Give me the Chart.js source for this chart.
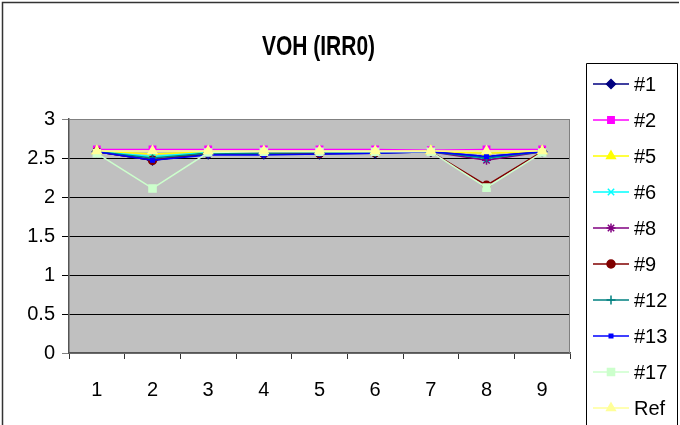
<!DOCTYPE html>
<html>
<head>
<meta charset="utf-8">
<script src="https://cdn.jsdelivr.net/npm/chart.js@4/dist/chart.umd.min.js"></script>
<style>
  html, body { margin: 0; padding: 0; background: #fff; }
  #wrap { width: 680px; height: 425px; }
</style>
</head>
<body>
<div id="wrap"><canvas id="chart" width="680" height="425"></canvas></div>
<script>
"use strict";

// x categories
const xLabels = ['1', '2', '3', '4', '5', '6', '7', '8', '9'];

// one list per device
const s1  = [2.58, 2.47, 2.55, 2.55, 2.55, 2.56, 2.58, 2.52, 2.58];
const s2  = [2.61, 2.61, 2.61, 2.61, 2.61, 2.61, 2.60, 2.61, 2.61];
const s5  = [2.59, 2.55, 2.58, 2.58, 2.58, 2.58, 2.59, 2.56, 2.59];
const s6  = [2.58, 2.52, 2.57, 2.57, 2.57, 2.57, 2.58, 2.49, 2.58];
const s8  = [2.58, 2.48, 2.56, 2.56, 2.56, 2.57, 2.58, 2.47, 2.58];
const s9  = [2.58, 2.47, 2.56, 2.56, 2.56, 2.57, 2.58, 2.15, 2.58];
const s12 = [2.58, 2.50, 2.56, 2.56, 2.57, 2.57, 2.58, 2.50, 2.58];
const s13 = [2.58, 2.47, 2.54, 2.54, 2.55, 2.56, 2.58, 2.52, 2.58];
const s17 = [2.56, 2.11, 2.57, 2.58, 2.58, 2.58, 2.58, 2.12, 2.57];
const sRef = [2.59, 2.59, 2.59, 2.59, 2.59, 2.59, 2.59, 2.59, 2.59];

const TITLE = 'VOH (IRR0)';
const FONT = "'Liberation Sans', Arial, sans-serif";

let n = 20;
const mk = (label, data, color, style, radius) => ({
  label: label,
  data: data,
  borderColor: color,
  backgroundColor: color,
  borderWidth: 1.5,
  pointStyle: style,
  pointRadius: radius,
  pointHoverRadius: radius,
  pointBorderWidth: 1.5,
  tension: 0,
  order: n--   // later series sit on top, like excel
});

const datasets = [
  mk('#1', s1, '#000080', 'rectRot', 4.5),
  mk('#2', s2, '#FF00FF', 'rect', 4.5),
  mk('#5', s5, '#FFFF00', 'triangle', 5),
  mk('#6', s6, '#00FFFF', 'crossRot', 4.5),
  mk('#8', s8, '#800080', 'star', 4.5),
  mk('#9', s9, '#800000', 'circle', 4),
  mk('#12', s12, '#008080', 'cross', 4.5),
  mk('#13', s13, '#0000FF', 'rect', 2.5),
  mk('#17', s17, '#CCFFCC', 'rect', 5),
  mk('Ref', sRef, '#FFFF99', 'triangle', 5)
];

// grey plot area, title, outer frame and an excel style legend
const frame = {
  id: 'frame',
  beforeDraw(chart) {
    const {ctx, chartArea: a} = chart;
    ctx.save();
    ctx.fillStyle = '#C0C0C0';
    ctx.fillRect(a.left, a.top, a.right - a.left, a.bottom - a.top);
    ctx.restore();
  },
  beforeDatasetsDraw(chart) {
    const {ctx, chartArea: a} = chart;
    ctx.save();
    ctx.strokeStyle = '#808080';
    ctx.lineWidth = 1;
    ctx.beginPath();
    ctx.moveTo(a.left, a.top + 0.5);
    ctx.lineTo(a.right - 0.5, a.top + 0.5);
    ctx.lineTo(a.right - 0.5, a.bottom);
    ctx.stroke();
    ctx.restore();
  },
  afterDraw(chart) {
    const {ctx, chartArea: a} = chart;
    ctx.save();

    // title, squeezed a bit like the excel one
    ctx.fillStyle = '#000';
    ctx.font = 'bold 28px ' + FONT;
    ctx.textAlign = 'center';
    ctx.textBaseline = 'middle';
    ctx.translate((a.left + a.right) / 2 - 1, 47);
    ctx.scale(0.75, 1);
    ctx.fillText(TITLE, 0, 0);
    ctx.setTransform(1, 0, 0, 1, 0, 0);

    ctx.strokeStyle = '#333';
    ctx.lineWidth = 1.5;
    ctx.beginPath();
    ctx.moveTo(2.5, 430);
    ctx.lineTo(2.5, 2.5);
    ctx.lineTo(679, 2.5);
    ctx.stroke();

    // legend box
    const bx = 586.5, by = 63.5, bw = 91;
    ctx.lineWidth = 1;
    ctx.strokeStyle = '#000';
    ctx.fillStyle = '#fff';
    ctx.fillRect(bx, by, bw, 400);
    ctx.beginPath();
    ctx.moveTo(bx, 430);
    ctx.lineTo(bx, by);
    ctx.lineTo(bx + bw, by);
    ctx.lineTo(bx + bw, 430);
    ctx.stroke();

    chart.data.datasets.forEach((ds, i) => {
      const y = 84 + i * 36;
      ctx.strokeStyle = ds.borderColor;
      ctx.fillStyle = ds.backgroundColor;
      ctx.lineWidth = 1.5;
      ctx.beginPath();
      ctx.moveTo(593, y);
      ctx.lineTo(629, y);
      ctx.stroke();
      Chart.helpers.drawPoint(ctx, {
        pointStyle: ds.pointStyle,
        radius: ds.pointRadius,
        rotation: 0,
        borderWidth: 1.5
      }, 611, y);
      ctx.fillStyle = '#000';
      ctx.font = '20px ' + FONT;
      ctx.textBaseline = 'middle';
      ctx.textAlign = 'left';
      ctx.fillText(ds.label, 634, y + 1);
    });
    ctx.restore();
  }
};

new Chart(document.getElementById('chart'), {
  type: 'line',
  data: { labels: xLabels, datasets: datasets },
  plugins: [frame],
  options: {
    responsive: false,
    animation: false,
    layout: { padding: { top: 119, right: 110, bottom: 0, left: 0 } },
    plugins: {
      legend: { display: false },
      tooltip: { enabled: false },
      title: { display: false }
    },
    scales: {
      x: {
        offset: true,
        afterFit(scale) { scale.height = 72; },
        grid: {
          offset: true,
          drawOnChartArea: false,
          tickLength: 6,
          color: '#333',
          lineWidth: 1
        },
        border: { color: '#555', width: 1.5 },
        ticks: { color: '#000', padding: 19, font: { family: FONT, size: 20 } }
      },
      y: {
        min: 0,
        max: 3,
        afterFit(scale) { scale.width = 69; },
        grid: {
          color: (c) => (c.tick && (c.tick.value === 0 || c.tick.value === 3)) ? '#808080' : '#000',
          tickLength: 7,
          lineWidth: 1
        },
        border: { color: '#555', width: 1.5 },
        ticks: {
          stepSize: 0.5,
          color: '#000',
          padding: 7,
          font: { family: FONT, size: 20 },
          callback: (v) => String(Number(v))
        }
      }
    }
  }
});
</script>
</body>
</html>
